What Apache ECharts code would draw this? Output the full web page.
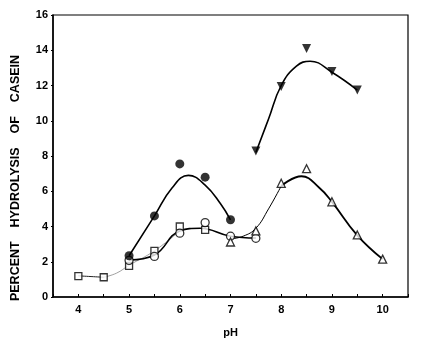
<!DOCTYPE html>
<html>
<head>
<meta charset="utf-8">
<script src="https://cdn.jsdelivr.net/npm/echarts@6/dist/echarts.min.js"></script>
<style>
  html, body { margin: 0; padding: 0; background: #fff; }
  #chart { width: 429px; height: 343px; }
</style>
</head>
<body>
<div id="chart"></div>
<script>
// Measured points (pH, percent hydrolysis)
const phSolidCircle = [5, 5.5, 6, 6.5, 7];
const valSolidCircle = [2.34, 4.6, 7.55, 6.8, 4.38];

const phOpenCircle = [5, 5.5, 6, 6.5, 7, 7.5];
const valOpenCircle = [2.08, 2.3, 3.62, 4.22, 3.45, 3.33];

const phOpenSquare = [4, 4.5, 5, 5.5, 6, 6.5];
const valOpenSquare = [1.18, 1.12, 1.77, 2.62, 4.0, 3.81];

const phOpenTriangle = [7, 7.5, 8, 8.5, 9, 9.5, 10];
const valOpenTriangle = [3.12, 3.75, 6.45, 7.28, 5.4, 3.52, 2.15];

const phSolidTriangle = [7.5, 8, 8.5, 9, 9.5];
const valSolidTriangle = [8.28, 11.95, 14.1, 12.8, 11.74];

// Hand-drawn fitted curves through the data
const phFitSolidCircle = [5.0, 5.5, 5.85, 6.17, 6.5, 6.8, 7.0];
const valFitSolidCircle = [2.34, 4.6, 6.2, 6.9, 6.35, 5.3, 4.38];

const phFitOpenCircle = [5.0, 5.5, 6.0, 6.4, 7.0, 7.5];
const valFitOpenCircle = [2.1, 2.38, 3.75, 3.9, 3.45, 3.35];

const phFitSquareLow = [4.0, 4.5];
const valFitSquareLow = [1.2, 1.12];
const phFitSquare = [4.5, 4.75, 5.0, 5.5, 6.0];
const valFitSquare = [1.12, 1.35, 1.8, 2.62, 3.75];

const phFitTriangleRise = [7.0, 7.25, 7.5, 7.75, 8.0];
const valFitTriangleRise = [3.3, 3.45, 3.9, 5.0, 6.3];
const phFitTriangleFall = [8.0, 8.4, 8.75, 9.0, 9.5, 10.0];
const valFitTriangleFall = [6.3, 6.85, 6.2, 5.4, 3.5, 2.15];

const phFitSolidTriangle = [7.5, 7.75, 8.0, 8.3, 8.57, 9.0, 9.5];
const valFitSolidTriangle = [8.2, 10.1, 12.0, 13.1, 13.38, 12.75, 11.74];

// Axis ticks
const xTickLabels = [4, 5, 6, 7, 8, 9, 10];
const yTickLabels = [0, 2, 4, 6, 8, 10, 12, 14, 16];

const zip = (xs, ys) => xs.map((x, i) => [x, ys[i]]);

const fontFam = '"Liberation Sans", Arial, sans-serif';

function curve(xs, ys, width, color) {
  return {
    type: 'line',
    data: zip(xs, ys),
    smooth: 0.45,
    showSymbol: false,
    symbol: 'none',
    silent: true,
    z: 2,
    lineStyle: { color: color || '#000', width: width }
  };
}

function marks(xs, ys, symbol, size, filled, rotate) {
  return {
    type: 'scatter',
    data: zip(xs, ys),
    symbol: symbol,
    symbolSize: size,
    symbolRotate: rotate || 0,
    z: 5,
    itemStyle: {
      color: filled ? '#000' : '#fff',
      borderColor: '#000',
      borderWidth: filled ? 0 : 1.3
    }
  };
}

const chart = echarts.init(document.getElementById('chart'), null, { renderer: 'canvas' });

chart.setOption({
  animation: false,
  backgroundColor: '#fff',
  grid: {
    left: 53, right: 21, top: 15, bottom: 45,
    show: true, borderColor: '#000', borderWidth: 1.2, backgroundColor: 'transparent'
  },
  xAxis: {
    type: 'value',
    min: 3.5, max: 10.5, interval: 0.5,
    splitLine: { show: false },
    axisLine: { lineStyle: { color: '#000', width: 1.5 } },
    axisTick: { inside: true, length: 3, lineStyle: { color: '#000', width: 1 } },
    axisLabel: {
      margin: 7,
      color: '#000', fontFamily: fontFam, fontWeight: 'bold', fontSize: 11,
      formatter: v => (xTickLabels.includes(v) ? String(v) : '')
    },
    name: 'pH',
    nameLocation: 'middle',
    nameGap: 30,
    nameTextStyle: { color: '#000', fontFamily: fontFam, fontWeight: 'bold', fontSize: 11 }
  },
  yAxis: {
    type: 'value',
    min: 0, max: 16, interval: 2,
    splitLine: { show: false },
    axisLine: { lineStyle: { color: '#000', width: 1.5 } },
    axisTick: { inside: false, length: 2, lineStyle: { color: '#000', width: 1 } },
    axisLabel: {
      margin: 5,
      color: '#000', fontFamily: fontFam, fontWeight: 'bold', fontSize: 11,
      formatter: v => (yTickLabels.includes(v) ? String(v) : '')
    }
  },
  graphic: [{
    type: 'text',
    x: 16, y: 178,
    rotation: Math.PI / 2,
    style: {
      text: 'PERCENT    HYDROLYSIS    OF    CASEIN',
      fill: '#000',
      font: 'bold 12.5px ' + fontFam,
      align: 'center',
      verticalAlign: 'middle'
    }
  }],
  series: [
    curve(phFitSquareLow, valFitSquareLow, 1, '#222'),
    curve(phFitSquare, valFitSquare, 0.8, '#888'),
    curve(phFitOpenCircle, valFitOpenCircle, 1.6),
    curve(phFitSolidCircle, valFitSolidCircle, 1.6),
    curve(phFitTriangleRise, valFitTriangleRise, 1),
    curve(phFitTriangleFall, valFitTriangleFall, 1.8),
    curve(phFitSolidTriangle, valFitSolidTriangle, 1.6),
    marks(phOpenSquare, valOpenSquare, 'rect', 7, false),
    marks(phOpenCircle, valOpenCircle, 'circle', 8, false),
    marks(phOpenTriangle, valOpenTriangle, 'triangle', 8, false),
    marks(phSolidCircle, valSolidCircle, 'circle', 9, true),
    marks(phSolidTriangle, valSolidTriangle, 'triangle', 9, true, 180)
  ]
});
</script>
</body>
</html>
